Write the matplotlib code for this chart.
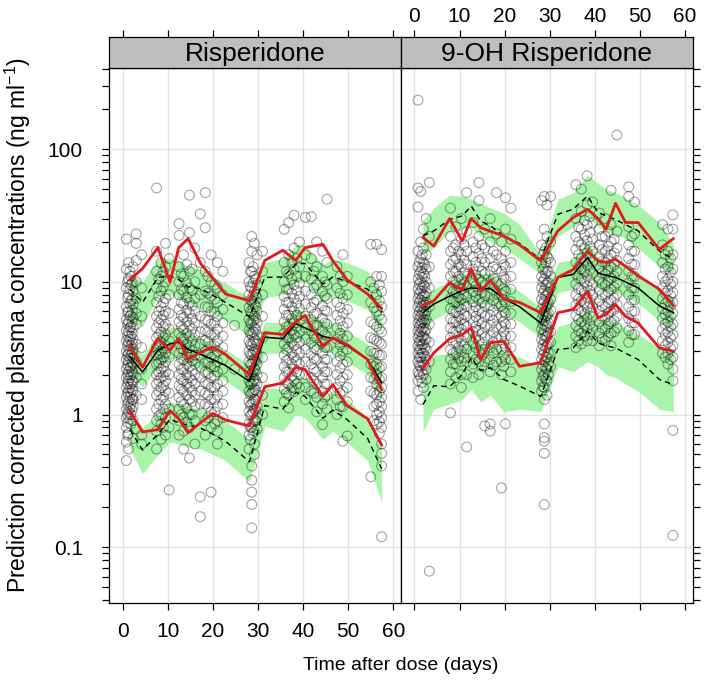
import matplotlib
matplotlib.use('Agg')
import matplotlib.pyplot as plt
from matplotlib.ticker import LogLocator, NullFormatter

plt.rcParams['font.family'] = ['Liberation Sans', 'DejaVu Sans']
plt.rcParams['mathtext.default'] = 'regular'

# ---- data: Risperidone (left panel) ----
RIS_BINS = [1.6, 4.4, 7.8, 10.5, 12.4, 14.5, 17.3, 20.0, 22.8, 28.1,
            31.5, 35.5, 38.4, 40.4, 44.4, 46.6, 49.7, 54.3, 57.4]
RIS_OBS_P95 = [10.4, 12.6, 18.1, 9.96, 18.1, 21.2, 13.7, 10.6, 8.1, 7.2,
               14.5, 17.3, 14.5, 18.1, 19.2, 14.4, 10.4, 8.1, 6.3]
RIS_OBS_P50 = [3.27, 2.27, 3.74, 3.04, 3.74, 2.60, 2.95, 3.22, 2.84, 2.0,
               4.14, 4.02, 5.0, 5.58, 3.27, 3.79, 3.37, 2.6, 1.54]
RIS_OBS_P5 = [1.06, 0.74, 0.77, 1.07, 0.93, 0.73, 0.87, 1.02, 0.91, 0.82,
              1.62, 1.73, 2.28, 2.19, 1.37, 1.68, 1.17, 0.93, 0.59]
RIS_SIM_P95 = [8.8, 7.0, 10.8, 11.1, 10.4, 9.2, 8.9, 7.9, 7.0, 5.46,
               10.8, 10.9, 13.6, 13.8, 9.6, 10.9, 10.1, 8.8, 5.86]
RIS_SIM_P50 = [2.73, 2.09, 3.04, 3.42, 3.5, 3.1, 2.84, 2.6, 2.34, 1.78,
               3.83, 3.73, 4.86, 4.51, 3.88, 3.74, 3.3, 2.6, 1.75]
RIS_SIM_P5 = [0.77, 0.54, 0.71, 0.92, 0.87, 0.83, 0.79, 0.71, 0.63, 0.44,
              1.17, 1.10, 1.47, 1.37, 0.94, 1.08, 0.92, 0.66, 0.39]
RIS_CI95_HI = [11.5, 10, 15, 15, 14.5, 13, 12.5, 11, 9.8, 7.6,
               14, 15, 19, 19, 13.5, 15, 14, 12, 8.2]
RIS_CI95_LO = [5.0, 4.6, 7.8, 8, 7.6, 6.8, 6.4, 5.8, 5.1, 3.9,
               7.6, 8.0, 9.8, 10, 7, 7.8, 7.2, 6.2, 4.1]
RIS_CI50_HI = [3.6, 2.8, 4.0, 4.5, 4.6, 4.1, 3.8, 3.4, 3.1, 2.35,
               5.0, 4.9, 6.3, 5.9, 5.1, 4.9, 4.3, 3.4, 2.3]
RIS_CI50_LO = [2.1, 1.6, 2.3, 2.6, 2.7, 2.4, 2.2, 2.0, 1.8, 1.35,
               2.9, 2.9, 3.7, 3.5, 3.0, 2.9, 2.5, 2.0, 1.3]
RIS_CI5_HI = [1.05, 0.8, 1.0, 1.25, 1.2, 1.15, 1.1, 1.0, 0.9, 0.65,
              1.6, 1.55, 1.95, 1.9, 1.35, 1.5, 1.3, 0.95, 0.62]
RIS_CI5_LO = [0.55, 0.36, 0.5, 0.62, 0.6, 0.57, 0.55, 0.5, 0.45, 0.31,
              0.82, 0.75, 1.0, 0.95, 0.65, 0.75, 0.62, 0.45, 0.22]

# observations: (time, concentrations)
RIS_OBS = [
    (0.8, [21, 12.5, 9, 6.5, 5.2, 4.3, 3.6, 3.0, 2.6, 2.2, 1.9, 1.6, 1.35, 1.1, 0.95, 0.8, 0.62, 0.45]),
    (1.1, [10, 7.6, 5.9, 4.8, 3.9, 3.3, 2.8, 2.35, 2.0, 1.7, 1.45, 1.2, 1.0, 0.87, 0.7]),
    (1.3, [14, 10.5, 8, 6, 5, 4.2, 3.5, 2.9, 2.5, 2.1, 1.8, 1.5, 1.25, 1.05, 0.72, 0.55]),
    (1.6, [12, 8.8, 6.8, 5.5, 4.5, 3.7, 3.1, 2.65, 2.25, 1.9, 1.6, 1.35, 1.12, 0.92]),
    (1.8, [11, 9.5, 7.2, 5.6, 4.6, 3.9, 3.3, 2.8, 2.3, 2.0, 1.7, 1.45, 1.2, 1.0, 0.85]),
    (2.1, [9.8, 7.4, 6.1, 5.0, 4.1, 3.45, 2.9, 2.45, 2.1, 1.8, 1.55, 1.3, 1.08]),
    (2.3, [13, 8.5, 6.8, 5.4, 4.5, 3.7, 3.1, 2.7, 2.4, 2.0, 1.75, 1.5, 1.3, 1.15, 0.9, 0.66]),
    (3.0, [23, 19.5, 14.5, 10, 7.5, 5.8, 4.8, 3.4, 2.5, 1.9, 1.4, 0.78]),
    (4.2, [16, 9, 5.5, 3.2, 2.2, 1.7, 1.3, 0.7, 0.6]),
    (7.5, [51, 17, 12, 9, 7, 5.5, 4.5, 3.8, 3.2, 2.8, 2.4, 2.0, 1.7, 1.4, 1.1, 0.9, 0.75, 0.55]),
    (8.0, [10.5, 7.8, 6.0, 4.9, 4.0, 3.4, 2.9, 2.45, 2.1, 1.8, 1.5, 1.2, 0.98]),
    (8.5, [14, 11, 8.5, 6.5, 5.2, 4.2, 3.5, 3.0, 2.6, 2.2, 1.9, 1.6, 1.3, 1.0, 0.85, 0.65]),
    (9.0, [12, 9.2, 7.0, 5.6, 4.6, 3.8, 3.15, 2.7, 2.3, 1.95, 1.65, 1.35, 1.1, 0.8]),
    (9.5, [19.5, 13, 10, 7.5, 6, 4.8, 4.0, 3.3, 2.9, 2.5, 2.1, 1.8, 1.5, 1.2, 0.95, 0.7]),
    (10.3, [15, 8, 5.8, 4.4, 3.6, 2.7, 2.0, 1.45, 1.1, 0.8, 0.27]),
    (12.5, [27.5, 22.4, 13, 10, 8, 6.2, 5, 4.1, 3.4, 2.9, 2.4, 2.0, 1.65, 1.35, 1.1, 0.9, 0.7]),
    (13.0, [11.5, 8.8, 7.0, 5.6, 4.6, 3.8, 3.15, 2.65, 2.2, 1.85, 1.55, 1.25, 1.0]),
    (13.5, [16, 11, 8.5, 6.8, 5.4, 4.4, 3.7, 3.1, 2.6, 2.2, 1.8, 1.5, 1.2, 0.95, 0.75, 0.55]),
    (14.2, [13.5, 9.8, 7.6, 6.1, 5.0, 4.1, 3.4, 2.85, 2.4, 2.0, 1.7, 1.4, 1.12, 0.88]),
    (14.8, [45, 23.5, 12, 9, 7, 5.8, 4.7, 3.9, 3.2, 2.7, 2.3, 1.9, 1.6, 1.3, 1.0, 0.8, 0.47]),
    (15.4, [12.5, 8.6, 6.6, 5.3, 4.4, 3.6, 3.0, 2.55, 2.15, 1.8, 1.5, 1.25, 1.0]),
    (16.0, [18, 10, 7.5, 6, 4.9, 4.0, 3.3, 2.8, 2.4, 2.0, 1.7, 1.4, 1.15, 0.9, 0.6]),
    (17.2, [32.5, 14, 8, 5.5, 4.2, 3.4, 2.8, 2.3, 1.9, 1.5, 1.2, 0.24, 0.17]),
    (18.3, [47, 25.6, 12, 8.5, 6.5, 5.2, 4.3, 3.6, 3.0, 2.5, 2.1, 1.75, 1.45, 1.2, 0.9, 0.7]),
    (18.9, [11, 8.2, 6.4, 5.1, 4.2, 3.5, 2.9, 2.45, 2.05, 1.7, 1.4, 1.15, 0.95]),
    (19.6, [16, 10, 7.8, 6, 4.8, 4.0, 3.3, 2.7, 2.3, 1.9, 1.6, 1.3, 1.05, 0.8, 0.26]),
    (20.4, [9.5, 7.4, 5.9, 4.9, 4.0, 3.3, 2.75, 2.3, 1.95, 1.6, 1.3, 1.05, 0.85]),
    (21.0, [14, 9, 7, 5.5, 4.4, 3.6, 3.0, 2.5, 2.1, 1.7, 1.4, 1.15, 0.9, 0.75, 0.6]),
    (22.2, [12, 8, 6.2, 4.9, 3.9, 3.2, 2.6, 2.2, 1.8, 1.5, 1.2, 0.95]),
    (24.8, [4.7, 2.2]),
    (28.0, [14, 10, 8, 6.4, 5.2, 4.3, 3.6, 3.0, 2.5, 2.1, 1.8, 1.5, 1.25, 1.05, 0.85, 0.7, 0.55]),
    (28.3, [12, 9.2, 7.3, 6.0, 4.9, 4.1, 3.4, 2.85, 2.4, 2.0, 1.7, 1.42, 1.18, 0.98, 0.8, 0.65]),
    (28.6, [22, 17, 12, 9, 7.2, 5.8, 4.8, 4.0, 3.3, 2.8, 2.4, 2.0, 1.7, 1.45, 1.2, 1.0, 0.8,
            0.41, 0.32, 0.26, 0.21, 0.14]),
    (28.9, [13, 9.8, 7.8, 6.3, 5.1, 4.2, 3.5, 2.95, 2.5, 2.1, 1.78, 1.5, 1.25, 1.05, 0.88, 0.72]),
    (29.2, [19.5, 11, 8.5, 6.8, 5.5, 4.5, 3.7, 3.1, 2.6, 2.2, 1.85, 1.55, 1.3, 1.1, 0.9, 0.75, 0.6, 0.5]),
    (29.5, [10.5, 8.0, 6.5, 5.3, 4.4, 3.6, 3.0, 2.55, 2.15, 1.8, 1.52, 1.28, 1.08, 0.9]),
    (29.8, [16, 9.5, 7.5, 6, 4.9, 4.0, 3.4, 2.9, 2.4, 2.0, 1.7, 1.4, 1.15, 0.95, 0.78]),
    (31.0, [17, 12, 8, 5.5, 3.8, 2.7, 1.9, 1.4, 1.0]),
    (35.8, [24.9, 14, 10, 7.8, 6.2, 5, 4.1, 3.4, 2.8, 2.3, 1.9, 1.55, 1.25]),
    (36.3, [12, 8.8, 7.0, 5.6, 4.6, 3.8, 3.1, 2.55, 2.1, 1.75, 1.45]),
    (36.8, [28, 16, 11.5, 8.8, 7, 5.6, 4.6, 3.8, 3.2, 2.6, 2.1, 1.7, 1.4, 1.12]),
    (37.5, [14, 10.5, 8.2, 6.5, 5.3, 4.3, 3.5, 2.9, 2.4, 1.95, 1.6]),
    (38.0, [31.8, 18, 12.5, 9.5, 7.5, 6, 4.9, 4.0, 3.3, 2.7, 2.2, 1.8, 1.5]),
    (38.6, [15, 11, 8.6, 6.9, 5.6, 4.6, 3.8, 3.1, 2.55, 2.1, 1.7]),
    (39.2, [20, 13, 9.8, 7.8, 6.3, 5.1, 4.2, 3.5, 2.9, 2.4, 2.0, 1.6]),
    (40.5, [30.6, 16, 11, 8.5, 6.8, 5.5, 4.5, 3.7, 3.1, 2.5, 2.0, 1.6, 1.3]),
    (41.8, [31, 15, 10.5, 8, 6.4, 5.2, 4.3, 3.5, 2.9, 2.4, 1.9, 1.5]),
    (42.4, [12, 9, 7.0, 5.7, 4.7, 3.9, 3.2, 2.65, 2.2, 1.8, 1.45]),
    (43.0, [20, 13, 9.5, 7.3, 5.8, 4.7, 3.8, 3.1, 2.6, 2.1, 1.7, 1.35, 1.05]),
    (44.3, [17, 11, 8.5, 6.6, 5.3, 4.3, 3.5, 2.9, 2.3, 1.9, 1.5, 1.2, 0.84]),
    (44.8, [10, 7.8, 6.1, 4.9, 4.0, 3.2, 2.6, 2.1, 1.7, 1.35]),
    (45.3, [42, 14, 9.5, 7.5, 6, 4.8, 3.9, 3.2, 2.6, 2.1, 1.7, 1.4, 1.1]),
    (47.5, [13, 9, 7, 5.6, 4.5, 3.7, 3.0, 2.5, 2.0, 1.6, 1.3, 1.0]),
    (48.2, [11, 8.2, 6.4, 5.1, 4.1, 3.35, 2.75, 2.25, 1.8, 1.45, 1.15]),
    (48.8, [16, 10, 7.5, 5.8, 4.6, 3.7, 3.0, 2.4, 1.9, 1.5, 1.15, 0.63]),
    (49.8, [11, 8, 6.2, 4.9, 3.9, 3.1, 2.5, 2.0, 1.6, 1.25, 0.69]),
    (55.0, [19.2, 10, 7, 5, 3.8, 3.0, 2.4, 1.9, 1.5, 0.34]),
    (55.7, [9, 6.4, 4.8, 3.7, 2.9, 2.3, 1.85, 1.45, 1.15, 0.9]),
    (56.3, [19.2, 11, 8, 6, 4.6, 3.6, 2.9, 2.4, 2.0, 1.7, 1.4, 1.2, 1.0, 0.85]),
    (56.9, [9.5, 7.2, 5.6, 4.4, 3.5, 2.8, 2.25, 1.85, 1.5, 1.25, 1.05, 0.88, 0.72]),
    (57.4, [17.5, 11, 8.5, 6.5, 5.2, 4.2, 3.4, 2.8, 2.3, 1.9, 1.6, 1.35, 1.15, 0.95, 0.8,
            0.6, 0.51, 0.41, 0.12]),
]

# ---- data: 9-OH Risperidone (right panel) ----
OH_BINS = [1.9, 4.3, 7.8, 10.6, 12.6, 14.7, 16.9, 19.8, 23.3, 28.0,
           31.8, 35.2, 38.4, 40.7, 42.5, 44.6, 46.8, 49.6, 54.3, 57.4]
OH_OBS_P95 = [21.6, 18.6, 30, 20.3, 30, 25.6, 24, 22.2, 19, 14.4,
              24.2, 30.5, 35.3, 30, 24.9, 39.1, 28, 28, 17.6, 21.2]
OH_OBS_P50 = [6.65, 7.2, 9.86, 8.7, 12.6, 8.5, 10.3, 7.4, 7.0, 5.86,
              10.8, 12.4, 17.1, 14.4, 14.0, 14.8, 13.1, 11.1, 8.8, 6.65]
OH_OBS_P5 = [2.25, 2.92, 3.73, 4.0, 4.51, 2.6, 3.48, 3.57, 2.31, 2.46,
             5.85, 6.2, 8.5, 5.35, 5.7, 6.75, 5.5, 4.9, 3.19, 3.0]
OH_SIM_P95 = [22.2, 24.2, 29.5, 31.4, 37.3, 28.7, 26.4, 22.2, 19.5, 14.8,
              32.3, 35.3, 44.4, 33.3, 31.5, 29.5, 27, 24.2, 17.1, 14.8]
OH_SIM_P50 = [5.85, 6.8, 7.8, 8.6, 9.0, 8.9, 8.9, 7.5, 6.5, 4.9,
              10.8, 11.4, 15.2, 11.7, 11.2, 10.8, 10.0, 9.0, 6.6, 5.85]
OH_SIM_P5 = [1.19, 1.65, 1.62, 2.0, 2.68, 2.16, 2.25, 1.84, 1.64, 1.37,
             3.1, 3.18, 4.25, 3.47, 3.3, 3.18, 2.9, 2.6, 1.84, 1.68]
OH_CI95_HI = [29, 36, 45, 44, 42, 39, 36, 33, 27, 16,
              42, 47, 64, 55, 50, 47, 43, 38, 28, 19.5]
OH_CI95_LO = [16, 18, 24, 25, 26, 22, 20, 18, 15, 11.5,
              22, 26, 31, 26, 24, 23, 21, 18, 13, 11.5]
OH_CI50_HI = [7.6, 8.8, 10.1, 11.2, 11.7, 11.6, 11.6, 9.8, 8.5, 6.4,
              14, 14.8, 19.8, 15.2, 14.6, 14, 13, 11.7, 8.6, 7.6]
OH_CI50_LO = [4.5, 5.2, 6.0, 6.6, 6.9, 6.8, 6.8, 5.8, 5.0, 3.8,
              8.3, 8.8, 11.7, 9.0, 8.6, 8.3, 7.7, 6.9, 5.1, 4.5]
OH_CI5_HI = [1.8, 2.8, 2.9, 3.3, 4.2, 3.4, 3.6, 3.0, 2.7, 2.3,
             4.6, 5.0, 6.2, 5.3, 5.2, 5.0, 4.5, 4.0, 3.2, 2.9]
OH_CI5_LO = [0.74, 1.1, 1.2, 1.3, 1.55, 1.25, 1.4, 1.05, 1.1, 1.05,
             2.3, 2.1, 2.5, 2.3, 2.0, 1.9, 1.7, 1.5, 1.1, 1.05]

OH_OBS = [
    (0.8, [234, 51, 36.6, 17, 13, 10.5, 8.8, 7.5, 6.5, 5.6, 4.9, 4.3, 3.8, 3.3, 2.9, 2.5, 2.1, 1.8, 1.5]),
    (1.1, [14, 11.5, 9.6, 8.1, 7.0, 6.0, 5.2, 4.6, 4.0, 3.55, 3.1, 2.7, 2.35, 2.0]),
    (1.4, [48, 20, 15, 12, 10, 8.5, 7.3, 6.3, 5.5, 4.8, 4.2, 3.6, 3.1, 2.7, 2.3, 1.9, 1.3]),
    (1.7, [16, 12.8, 10.8, 9.0, 7.7, 6.6, 5.8, 5.0, 4.4, 3.85, 3.35, 2.9, 2.5, 2.15, 1.75]),
    (2.0, [25, 18, 14, 11.5, 9.5, 8, 7, 6, 5.2, 4.5, 3.9, 3.4, 2.9, 2.4, 2.0, 1.6]),
    (2.3, [13.5, 11, 9.2, 7.8, 6.7, 5.7, 4.9, 4.25, 3.7, 3.2, 2.75, 2.35]),
    (2.6, [30, 16, 12.5, 10, 8.3, 7, 6, 5.2, 4.4, 3.7, 3.1, 2.6, 2.2, 1.84]),
    (3.3, [56, 22, 13, 9, 6.5, 4.8, 3.5, 2.5, 0.066]),
    (8.0, [36, 22, 17, 13.5, 11, 9, 7.5, 6.3, 5.3, 4.5, 3.8, 3.1, 2.6, 2.1, 1.7, 1.03]),
    (8.6, [18, 14.5, 12, 10, 8.4, 7.1, 6.0, 5.0, 4.2, 3.5, 2.9, 2.4]),
    (9.2, [26, 19, 15, 12, 10, 8.3, 7, 5.9, 5, 4.2, 3.5, 2.9, 2.4, 1.9]),
    (9.8, [17, 13.5, 11, 9.2, 7.7, 6.5, 5.5, 4.6, 3.85, 3.2, 2.65]),
    (10.4, [30, 21, 16, 13, 10.5, 8.8, 7.4, 6.2, 5.2, 4.4, 3.6, 3.0, 2.5, 2.0, 1.6]),
    (11.0, [19, 14.5, 11.8, 9.7, 8.1, 6.8, 5.7, 4.8, 4.0, 3.3, 2.7]),
    (11.6, [47, 24, 17, 13.5, 11, 9.2, 7.7, 6.5, 5.5, 4.6, 3.8, 3.1, 2.5, 2.0, 0.57]),
    (13.0, [28, 20, 15.5, 12.5, 10.2, 8.5, 7.1, 6, 5, 4.2, 3.5, 2.9, 2.4, 1.9]),
    (13.6, [18, 14, 11.3, 9.3, 7.8, 6.5, 5.5, 4.6, 3.8, 3.2, 2.6]),
    (14.3, [56, 41, 22, 16.5, 13, 10.5, 8.7, 7.3, 6.1, 5.1, 4.3, 3.6, 3.0, 2.5, 2.0]),
    (15.0, [19, 15, 12, 10, 8.3, 7.0, 5.9, 4.9, 4.1, 3.4, 2.8, 2.3]),
    (15.6, [25, 18, 14, 11.5, 9.5, 7.9, 6.6, 5.5, 4.6, 3.8, 3.1, 2.5, 0.82]),
    (16.8, [30, 20, 15, 12, 9.8, 8.1, 6.7, 5.6, 4.7, 3.9, 3.2, 2.6, 2.1, 0.75, 0.85]),
    (17.5, [17, 13, 10.6, 8.8, 7.3, 6.1, 5.1, 4.2, 3.5, 2.9, 2.35]),
    (18.2, [47, 23, 16, 12.5, 10, 8.2, 6.8, 5.6, 4.6, 3.8, 3.1, 2.5]),
    (19.3, [20, 15, 12, 9.7, 8, 6.6, 5.5, 4.6, 3.8, 3.1, 2.5, 2.0, 0.28]),
    (19.8, [13.5, 10.8, 8.8, 7.3, 6.0, 5.0, 4.2, 3.45, 2.8, 2.3]),
    (20.2, [43, 25, 17, 13, 10.5, 8.5, 7, 5.8, 4.8, 3.9, 3.2, 2.6, 0.85]),
    (21.4, [36, 21, 14, 11, 8.8, 7.1, 5.8, 4.8, 3.9, 3.2, 2.6, 2.1]),
    (28.2, [41, 19, 14, 11, 9, 7.4, 6.2, 5.2, 4.4, 3.7, 3.1, 2.6, 2.2, 1.8, 1.5]),
    (28.5, [16, 12.5, 10, 8.2, 6.8, 5.7, 4.8, 4.0, 3.35, 2.8, 2.35, 1.95, 1.62]),
    (28.8, [44, 25, 17, 13, 10.5, 8.7, 7.2, 6, 5.1, 4.3, 3.6, 3.0, 2.5, 2.0, 1.6, 1.3,
            0.85, 0.67, 0.63, 0.51, 0.21]),
    (29.1, [18, 14, 11.5, 9.4, 7.8, 6.5, 5.5, 4.6, 3.85, 3.2, 2.7, 2.25, 1.85]),
    (29.4, [38, 22, 15.5, 12, 9.8, 8.1, 6.7, 5.6, 4.7, 3.9, 3.3, 2.7, 2.2, 1.8, 1.4]),
    (29.7, [15, 12, 9.9, 8.3, 6.9, 5.8, 4.9, 4.1, 3.45, 2.9, 2.4, 2.0]),
    (30.2, [44, 20, 14, 11, 9, 7.4, 6.1, 5.1, 4.2, 3.5, 2.9, 2.3]),
    (35.8, [54, 30, 22, 17.5, 14, 11.5, 9.6, 8, 6.7, 5.6, 4.7, 3.9, 3.2]),
    (36.4, [26, 20, 16, 13, 10.7, 8.9, 7.4, 6.2, 5.2, 4.3, 3.6]),
    (37.0, [50, 34, 25, 19, 15, 12.5, 10.5, 8.7, 7.2, 6, 5, 4.1, 3.4]),
    (37.7, [29, 22.5, 18, 14.6, 12, 10, 8.3, 6.9, 5.7, 4.7, 3.9]),
    (38.3, [63, 38, 27, 20.5, 16.5, 13.5, 11.2, 9.3, 7.7, 6.4, 5.3, 4.4, 3.6]),
    (38.9, [31, 23.5, 18.6, 15, 12.3, 10.2, 8.5, 7.0, 5.8, 4.8, 4.0]),
    (39.5, [40, 28, 21, 17, 14, 11.5, 9.5, 7.9, 6.5, 5.4, 4.4, 3.6]),
    (41.0, [33, 25, 19, 15.5, 12.8, 10.5, 8.7, 7.2, 6, 5, 4.1, 3.3]),
    (41.6, [22, 17.5, 14.2, 11.7, 9.7, 8.0, 6.6, 5.5, 4.5, 3.7]),
    (42.3, [30, 22, 17, 14, 11.5, 9.5, 7.9, 6.5, 5.4, 4.4, 3.6]),
    (43.0, [24, 18.5, 15, 12.3, 10.2, 8.4, 7.0, 5.8, 4.8, 3.9]),
    (43.6, [49, 27, 20, 16, 13, 10.7, 8.8, 7.3, 6, 5, 4.1, 3.3]),
    (44.3, [21, 16.5, 13.4, 11, 9.1, 7.5, 6.2, 5.1, 4.2]),
    (44.9, [128, 24, 18, 14.5, 12, 9.8, 8.1, 6.7, 5.5, 4.5]),
    (47.5, [52, 44, 26, 19, 15, 12, 9.8, 8, 6.5, 5.3, 4.3, 3.5]),
    (48.2, [22, 17, 13.6, 11, 9.0, 7.3, 6.0, 4.9, 4.0]),
    (48.8, [40, 23, 17, 13.5, 11, 9, 7.3, 6, 4.9, 4.0]),
    (55.0, [27, 19, 14, 11, 9, 7.5, 6.3, 5.3, 4.4, 3.6, 2.9]),
    (55.6, [16, 12.5, 10, 8.2, 6.8, 5.7, 4.8, 4.0, 3.3, 2.7]),
    (56.2, [25, 17, 13, 10.5, 8.6, 7.2, 6, 5, 4.2, 3.5, 2.9, 2.4]),
    (56.8, [15, 11.8, 9.6, 7.9, 6.6, 5.5, 4.6, 3.8, 3.15, 2.6]),
    (57.3, [32, 25, 16, 12.5, 10, 8.3, 7, 5.8, 4.8, 4, 3.3, 2.7, 2.2, 1.8, 0.76, 0.123]),
]

STRIP_LABELS = ['Risperidone', '9-OH Risperidone']
X_TICKS = [0, 10, 20, 30, 40, 50, 60]
Y_TICKS = [0.1, 1, 10, 100]
Y_TICK_LABELS = ['0.1', '1', '10', '100']

# styles
BAND_COLOR = '#A8F4A8'
RED = '#E31A1C'
GRID_COLOR = '#E3E3E3'
STRIP_COLOR = '#BEBEBE'
XLIM = (-2.97, 61.7)
YLIM = (0.038, 407)
TICK_SIZE = 15


def draw_panel(ax, bins, bands, sims, obs_lines, obs):
    ax.set_yscale('log')
    ax.set_xlim(*XLIM)
    ax.set_ylim(*YLIM)
    for x in X_TICKS:
        ax.axvline(x, color=GRID_COLOR, lw=1.0, zorder=0)
    for y in Y_TICKS:
        ax.axhline(y, color=GRID_COLOR, lw=1.0, zorder=0)

    for lo, hi in bands:
        ax.fill_between(bins, lo, hi, color=BAND_COLOR, lw=0, zorder=1)

    times, concs = [], []
    for t, vals in obs:
        times += [t] * len(vals)
        concs += vals
    ax.scatter(times, concs, s=50, facecolors='none',
               edgecolors=(0, 0, 0, 0.36), linewidths=0.8, zorder=2)

    p5, p50, p95 = sims
    ax.plot(bins, p5, color='black', lw=1.0, ls=(0, (4, 3)), zorder=3)
    ax.plot(bins, p95, color='black', lw=1.0, ls=(0, (4, 3)), zorder=3)
    ax.plot(bins, p50, color='black', lw=1.1, zorder=3)
    for line in obs_lines:
        ax.plot(bins, line, color=RED, lw=2.0, zorder=4)

    ax.set_xticks(X_TICKS)
    ax.set_yticks(Y_TICKS)
    ax.yaxis.set_minor_locator(LogLocator(base=10, subs=range(2, 10), numticks=20))
    ax.yaxis.set_minor_formatter(NullFormatter())
    ax.tick_params(which='both', direction='out', length=5, width=0.9, labelsize=TICK_SIZE)
    for s in ax.spines.values():
        s.set_linewidth(0.9)


def draw_strip(fig, rect, label, show_labels):
    sax = fig.add_axes(rect)
    sax.set_facecolor(STRIP_COLOR)
    sax.set_xlim(*XLIM)
    sax.set_yticks([])
    sax.xaxis.tick_top()
    sax.set_xticks(X_TICKS)
    sax.tick_params(axis='x', direction='out', length=5, width=0.9, labelsize=TICK_SIZE, pad=3,
                    labeltop=show_labels, labelbottom=False, bottom=False)
    for s in sax.spines.values():
        s.set_linewidth(0.9)
    sax.text(0.5, 0.45, label, transform=sax.transAxes, ha='center', va='center', fontsize=19)


def main():
    fig = plt.figure(figsize=(7.09, 6.86), dpi=100)

    W, H = 709.0, 686.0
    left_x, mid_x, right_x = 109.3, 401.0, 692.7
    top_y, strip_y, bottom_y = 37.3, 68.3, 603.0
    pw = (mid_x - left_x) / W
    ph = (bottom_y - strip_y) / H
    sh = (strip_y - top_y) / H

    ax1 = fig.add_axes([left_x / W, 1 - bottom_y / H, pw, ph])
    ax2 = fig.add_axes([mid_x / W, 1 - bottom_y / H, pw, ph])

    draw_panel(ax1, RIS_BINS,
               [(RIS_CI95_LO, RIS_CI95_HI), (RIS_CI50_LO, RIS_CI50_HI), (RIS_CI5_LO, RIS_CI5_HI)],
               (RIS_SIM_P5, RIS_SIM_P50, RIS_SIM_P95),
               [RIS_OBS_P5, RIS_OBS_P50, RIS_OBS_P95], RIS_OBS)
    draw_panel(ax2, OH_BINS,
               [(OH_CI95_LO, OH_CI95_HI), (OH_CI50_LO, OH_CI50_HI), (OH_CI5_LO, OH_CI5_HI)],
               (OH_SIM_P5, OH_SIM_P50, OH_SIM_P95),
               [OH_OBS_P5, OH_OBS_P50, OH_OBS_P95], OH_OBS)

    # left panel: labelled y on left, labelled x at bottom
    ax1.set_yticklabels(Y_TICK_LABELS)
    ax1.tick_params(axis='y', which='both', right=False, pad=14)
    ax1.tick_params(axis='x', pad=9)
    # right panel: unlabelled ticks on right and bottom
    ax2.yaxis.tick_right()
    ax2.tick_params(axis='y', which='both', left=False, labelright=False)
    ax2.tick_params(axis='x', labelbottom=False)

    draw_strip(fig, [left_x / W, 1 - strip_y / H, pw, sh], STRIP_LABELS[0], False)
    draw_strip(fig, [mid_x / W, 1 - strip_y / H, pw, sh], STRIP_LABELS[1], True)

    fig.text(mid_x / W, 1 - 665 / H, 'Time after dose (days)', ha='center', va='center', fontsize=14)
    fig.text(18 / W, 1 - 325 / H,
             'Prediction corrected plasma concentrations (ng ml$^{-1}$)',
             ha='center', va='center', rotation=90, fontsize=16.5)

    fig.savefig('out.png', dpi=100)


if __name__ == '__main__':
    main()
